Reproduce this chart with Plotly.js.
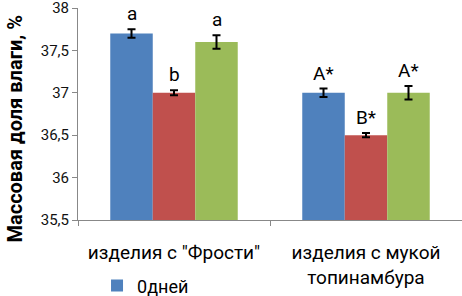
<!DOCTYPE html>
<html>
<head>
<meta charset="utf-8">
<script src="https://cdn.plot.ly/plotly-3.0.1.min.js"></script>
<style>html,body{margin:0;padding:0;background:#fff;}#chart{width:462px;height:296px;}</style>
</head>
<body>
<div id="chart"></div>
<script>
const categories = ['изделия с "Фрости"', 'изделия с мукой<br>топинамбура'];
const seriesNames = ['0дней', 'серия 2', 'серия 3'];
const seriesValues = [
  [37.7, 37.0],
  [37.0, 36.5],
  [37.6, 37.0]
];
const seriesErrors = [
  [0.05, 0.05],
  [0.03, 0.025],
  [0.08, 0.08]
];
const seriesLetters = [
  ['a', 'A*'],
  ['b', 'B*'],
  ['a', 'A*']
];
const seriesColors = ['#4F81BD', '#C0504D', '#9BBB59'];
const yTickVals = [35.5, 36, 36.5, 37, 37.5, 38];
const yTitle = 'Массовая доля влаги, %';

const bargap = 0.336;
const nSeries = seriesValues.length;
const barW = (1 - bargap) / nSeries;
const FONT = 'Roboto, sans-serif';

const traces = seriesValues.map((vals, i) => ({
  type: 'bar',
  name: seriesNames[i],
  x: categories,
  y: vals,
  marker: {color: seriesColors[i]},
  error_y: {type: 'data', array: seriesErrors[i], visible: true, color: '#000', thickness: 2, width: 4},
  showlegend: i === 0,
  hoverinfo: 'none'
}));

const annotations = [];
seriesValues.forEach((vals, i) => {
  vals.forEach((v, j) => {
    annotations.push({
      xref: 'x', yref: 'y',
      x: j + (i - (nSeries - 1) / 2) * barW,
      y: v + seriesErrors[i][j],
      text: seriesLetters[i][j],
      showarrow: false,
      yanchor: 'bottom',
      yshift: 2,
      font: {family: FONT, size: 19, color: '#000'}
    });
  });
});
annotations.push({
  xref: 'paper', yref: 'paper',
  x: -0.165, y: 0.43,
  xanchor: 'center', yanchor: 'middle',
  text: '<b>' + yTitle + '</b>',
  textangle: -90,
  showarrow: false,
  font: {family: FONT, size: 20, color: '#000'}
});

const layout = {
  width: 462, height: 296,
  margin: {l: 78, r: 0, t: 8, b: 76},
  separators: ', ',
  paper_bgcolor: '#fff', plot_bgcolor: '#fff',
  barmode: 'group',
  bargap: bargap,
  bargroupgap: 0,
  showlegend: true,
  legend: {orientation: 'h', xref: 'container', yref: 'container', x: 0.21, xanchor: 'left', y: 0.097, yanchor: 'top',
    font: {family: FONT, size: 18, color: '#000'},
    itemwidth: 30, tracegroupgap: 0, bgcolor: 'rgba(0,0,0,0)'},
  xaxis: {
    type: 'category',
    automargin: false,
    showline: true, linecolor: '#888', linewidth: 1,
    ticks: 'outside', tickson: 'boundaries', ticklen: 5, tickcolor: '#888',
    ticklabelstandoff: 15,
    tickfont: {family: FONT, size: 19, color: '#000'},
    showgrid: false, zeroline: false,
    range: [-0.5, 1.5]
  },
  yaxis: {
    automargin: false,
    range: [35.5, 38],
    tickvals: yTickVals,
    ticklabeloverflow: 'allow',
    showline: true, linecolor: '#888', linewidth: 1,
    ticks: 'outside', ticklen: 5, tickcolor: '#888',
    tickfont: {family: FONT, size: 15, color: '#111'},
    showgrid: false, zeroline: false
  },
  annotations: annotations
};

Plotly.newPlot('chart', traces, layout, {staticPlot: true, displayModeBar: false});
</script>
</body>
</html>
